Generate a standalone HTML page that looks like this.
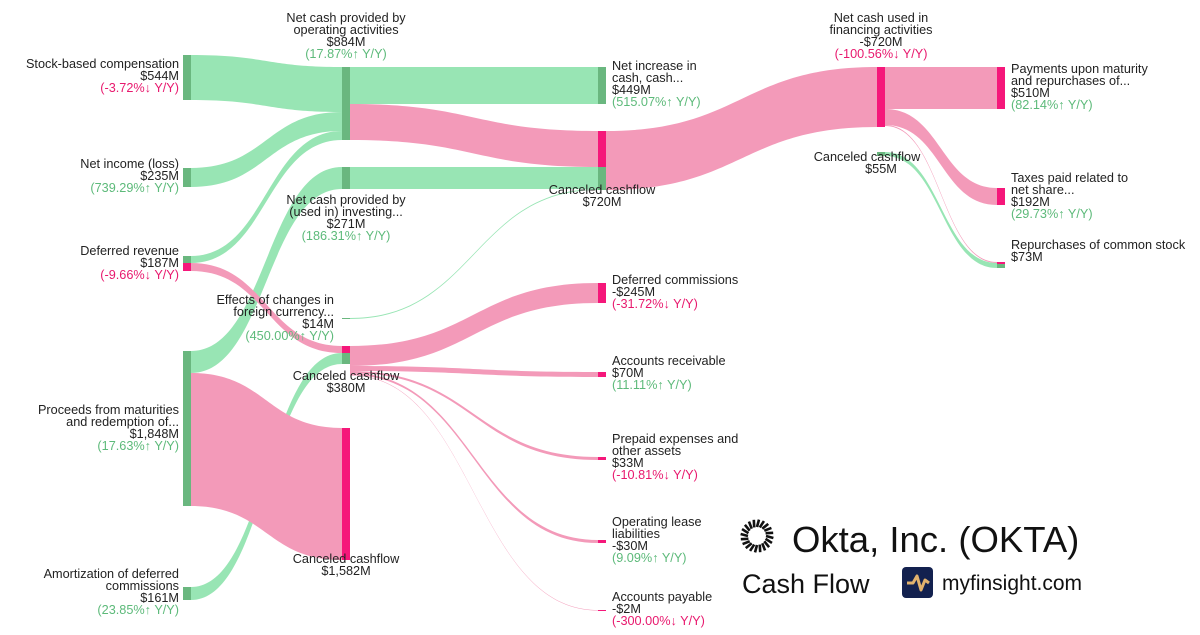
<!DOCTYPE html>
<html><head><meta charset="utf-8"><style>
body{margin:0;background:#fff;width:1200px;height:630px;overflow:hidden;font-family:"Liberation Sans",sans-serif}
svg text{font-family:"Liberation Sans",sans-serif;font-size:12.7px;fill:#222}
.g{fill:#5dba7a}.r{fill:#e8196e}
</style></head><body>
<svg id="s" width="1200" height="630" xmlns="http://www.w3.org/2000/svg">
<g id="links"></g>
<g id="nodes"></g>
<g id="labels">
<text x="179" y="68" text-anchor="end">Stock-based compensation</text>
<text x="179" y="80" text-anchor="end">$544M</text>
<text x="179" y="92" text-anchor="end" class="r">(-3.72%↓ Y/Y)</text>
<text x="179" y="168" text-anchor="end">Net income (loss)</text>
<text x="179" y="180" text-anchor="end">$235M</text>
<text x="179" y="192" text-anchor="end" class="g">(739.29%↑ Y/Y)</text>
<text x="179" y="255" text-anchor="end">Deferred revenue</text>
<text x="179" y="267" text-anchor="end">$187M</text>
<text x="179" y="279" text-anchor="end" class="r">(-9.66%↓ Y/Y)</text>
<text x="179" y="414" text-anchor="end">Proceeds from maturities</text>
<text x="179" y="426" text-anchor="end">and redemption of...</text>
<text x="179" y="438" text-anchor="end">$1,848M</text>
<text x="179" y="450" text-anchor="end" class="g">(17.63%↑ Y/Y)</text>
<text x="179" y="578" text-anchor="end">Amortization of deferred</text>
<text x="179" y="590" text-anchor="end">commissions</text>
<text x="179" y="602" text-anchor="end">$161M</text>
<text x="179" y="614" text-anchor="end" class="g">(23.85%↑ Y/Y)</text>
<text x="346" y="22" text-anchor="middle">Net cash provided by</text>
<text x="346" y="34" text-anchor="middle">operating activities</text>
<text x="346" y="46" text-anchor="middle">$884M</text>
<text x="346" y="58" text-anchor="middle" class="g">(17.87%↑ Y/Y)</text>
<text x="346" y="204" text-anchor="middle">Net cash provided by</text>
<text x="346" y="216" text-anchor="middle">(used in) investing...</text>
<text x="346" y="228" text-anchor="middle">$271M</text>
<text x="346" y="240" text-anchor="middle" class="g">(186.31%↑ Y/Y)</text>
<text x="334" y="304" text-anchor="end">Effects of changes in</text>
<text x="334" y="316" text-anchor="end">foreign currency...</text>
<text x="334" y="328" text-anchor="end">$14M</text>
<text x="334" y="340" text-anchor="end" class="g">(450.00%↑ Y/Y)</text>
<text x="346" y="380" text-anchor="middle">Canceled cashflow</text>
<text x="346" y="392" text-anchor="middle">$380M</text>
<text x="346" y="563" text-anchor="middle">Canceled cashflow</text>
<text x="346" y="575" text-anchor="middle">$1,582M</text>
<text x="612" y="70">Net increase in</text>
<text x="612" y="82">cash, cash...</text>
<text x="612" y="94">$449M</text>
<text x="612" y="106" class="g">(515.07%↑ Y/Y)</text>
<text x="602" y="194" text-anchor="middle">Canceled cashflow</text>
<text x="602" y="206" text-anchor="middle">$720M</text>
<text x="612" y="284">Deferred commissions</text>
<text x="612" y="296">-$245M</text>
<text x="612" y="308" class="r">(-31.72%↓ Y/Y)</text>
<text x="612" y="365">Accounts receivable</text>
<text x="612" y="377">$70M</text>
<text x="612" y="389" class="g">(11.11%↑ Y/Y)</text>
<text x="612" y="443">Prepaid expenses and</text>
<text x="612" y="455">other assets</text>
<text x="612" y="467">$33M</text>
<text x="612" y="479" class="r">(-10.81%↓ Y/Y)</text>
<text x="612" y="526">Operating lease</text>
<text x="612" y="538">liabilities</text>
<text x="612" y="550">-$30M</text>
<text x="612" y="562" class="g">(9.09%↑ Y/Y)</text>
<text x="612" y="601">Accounts payable</text>
<text x="612" y="613">-$2M</text>
<text x="612" y="625" class="r">(-300.00%↓ Y/Y)</text>
<text x="881" y="22" text-anchor="middle">Net cash used in</text>
<text x="881" y="34" text-anchor="middle">financing activities</text>
<text x="881" y="46" text-anchor="middle">-$720M</text>
<text x="881" y="58" class="r" text-anchor="middle">(-100.56%↓ Y/Y)</text>
<text x="867" y="161" text-anchor="middle">Canceled cashflow</text>
<text x="881" y="173" text-anchor="middle">$55M</text>
<text x="1011" y="73">Payments upon maturity</text>
<text x="1011" y="85">and repurchases of...</text>
<text x="1011" y="97">$510M</text>
<text x="1011" y="109" class="g">(82.14%↑ Y/Y)</text>
<text x="1011" y="182">Taxes paid related to</text>
<text x="1011" y="194">net share...</text>
<text x="1011" y="206">$192M</text>
<text x="1011" y="218" class="g">(29.73%↑ Y/Y)</text>
<text x="1011" y="249">Repurchases of common stock</text>
<text x="1011" y="261">$73M</text>
</g>
<g transform="translate(757,536)" stroke="#111" stroke-width="2.6" stroke-linecap="butt" id="sun"></g>
<text x="792" y="552" style="font-size:36.5px;fill:#111">Okta, Inc. (OKTA)</text>
<text x="742" y="593" style="font-size:27px;fill:#111">Cash Flow</text>
<rect x="902" y="567" width="31" height="31" rx="4" fill="#13214f"/>
<path d="M907 583 L913 583 L917 576 L921 590 L925 580 L929 583" stroke="#e2b26d" stroke-width="3" fill="none" stroke-linejoin="round"/>
<text x="942" y="590" style="font-size:21px;fill:#111">myfinsight.com</text>
</svg>
<script>
var L=document.getElementById('links'),N=document.getElementById('nodes'),ns='http://www.w3.org/2000/svg';
function band(x0,a0,b0,x1,a1,b1,c){var m=(x0+x1)/2,p=document.createElementNS(ns,'path');
p.setAttribute('d','M'+x0+' '+a0+'C'+m+' '+a0+' '+m+' '+a1+' '+x1+' '+a1+'L'+x1+' '+b1+'C'+m+' '+b1+' '+m+' '+b0+' '+x0+' '+b0+'Z');
p.setAttribute('fill',c);L.appendChild(p);}
function node(x,y,h,c){var r=document.createElementNS(ns,'rect');r.setAttribute('x',x);r.setAttribute('y',y);r.setAttribute('width',8);r.setAttribute('height',h);r.setAttribute('fill',c);N.appendChild(r);}
var G='#98e5b4',P='#f39ab9',GN='#6ab77f',PN='#f5177a';
band(191,55,100,342,67,112,G);
band(191,168,187,342,112,131,G);
band(191,256,263,342,131,140,G);
band(191,351,373,342,167,189,G);
band(191,263,271,342,346,353,P);
band(191,587,600,342,353,364,G);
band(191,373,506,342,428,560,P);
band(350,67,104,598,67,104,G);
band(350,104,140,598,131,167,P);
band(350,167,189,598,167,189,G);
band(350,318,319,598,189,190,G);
band(350,346,366,598,283,303,P);
band(350,366,371,598,372,377,P);
band(350,371,373,598,457,460,P);
band(350,373,375,598,540,543,P);
band(350,375,375.5,598,610,610.5,P);
band(606,131,190,877,67,127,P);
band(885,67,109,997,67,109,P);
band(885,109,125,997,188,205,P);
band(885,125,126,997,262,263,P);
band(885,152,156,997,263,268,G);
node(183,55,45,GN);node(183,168,19,GN);node(183,256,7,GN);node(183,263,8,PN);
node(183,351,22,GN);node(183,373,133,GN);node(183,587,13,GN);
node(342,67,73,GN);node(342,167,22,GN);node(342,318,1,GN);node(342,346,7,PN);node(342,353,11,GN);node(342,428,132,PN);
node(598,67,37,GN);node(598,131,36,PN);node(598,167,23,GN);node(598,283,20,PN);node(598,372,5,PN);node(598,457,3,PN);node(598,540,3,PN);node(598,610,1,PN);
node(877,67,60,PN);node(877,152,4,GN);
node(997,67,42,PN);node(997,188,17,PN);node(997,262,2,PN);node(997,264,4,GN);
var S=document.getElementById('sun');
for(var i=0;i<20;i++){var a=i*Math.PI/10,l=document.createElementNS(ns,'line');
l.setAttribute('x1',9*Math.cos(a));l.setAttribute('y1',9*Math.sin(a));l.setAttribute('x2',16.5*Math.cos(a+0.12));l.setAttribute('y2',16.5*Math.sin(a+0.12));S.appendChild(l);}
</script>
</body></html>
